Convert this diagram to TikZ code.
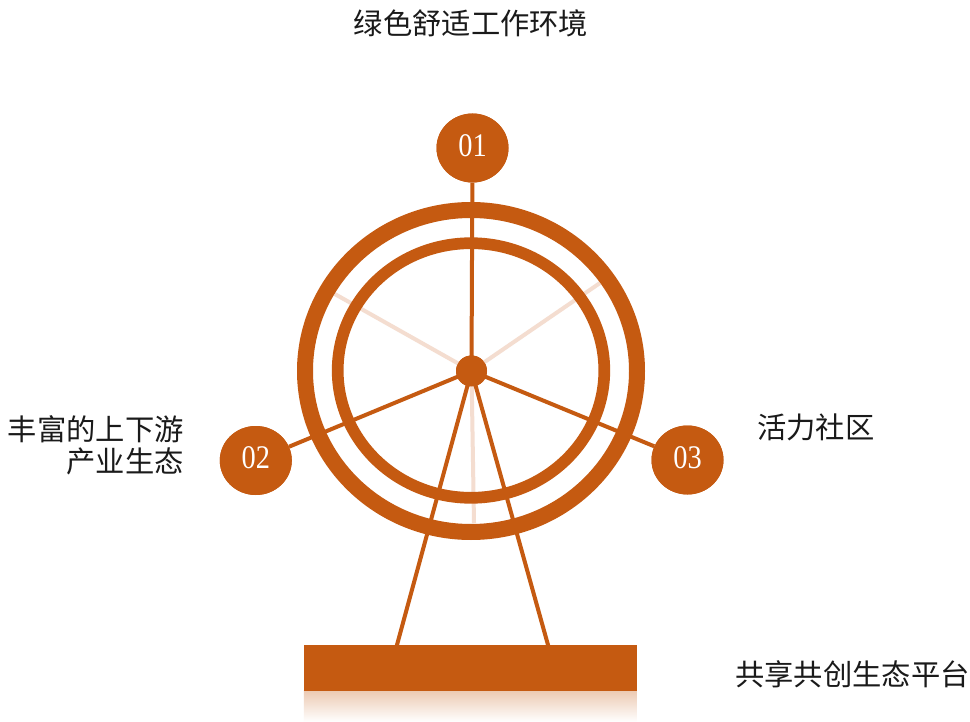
\documentclass[tikz,border=0pt]{standalone}
\usepackage{fontspec}
\setmainfont{Liberation Serif}
\newfontfamily\cjk{Noto Sans CJK SC}
\usetikzlibrary{shapes.geometric}
\definecolor{rust}{HTML}{C55A11}
\definecolor{rustpale}{HTML}{F4DDD0}
\definecolor{ink}{HTML}{1A1A1A}
\newcommand{\badgenum}[1]{\raisebox{5pt}{\scalebox{0.86}[1]{#1}}}
\begin{document}
\begin{tikzpicture}[x=1pt,y=-1pt,
  badge/.style={ellipse,fill=rust,minimum width=72pt,minimum height=69pt,inner sep=0pt,
    text=white,font=\fontsize{33}{33}\selectfont},
  hubdisc/.style={circle,fill=rust,minimum size=31pt,inner sep=0pt},
  caption/.style={font=\cjk\fontsize{29.3}{32}\selectfont,text=ink,inner sep=0pt},
  spoke/.style={draw=rust,line width=4pt},
  ghost/.style={draw=rustpale,line width=4pt},
  ring/.style={draw=rust},
]
\useasboundingbox (0,0) rectangle (970,722);
\fill[white] (0,0) rectangle (970,722);

% hub and badge positions
\node[hubdisc] (hub) at (471.5,371) {};
\node[badge] (n1) at (472.5,148) {};
\node[badge] (n2) at (255.8,460.5) {};
\node[badge] (n3) at (687.5,460) {};

% base platform with its fading reflection
\node[fill=rust,minimum width=332.7pt,minimum height=45.7pt,inner sep=0pt] (base) at (470.3,667.9) {};
\shade[top color=rust!32,bottom color=white] (base.south west) rectangle ++(332.7,31);

% free ends of the pale spokes and the legs
\coordinate (g1) at (333,293);
\coordinate (g2) at (600,283);
\coordinate (g3) at (474,523);
\coordinate (legL) at (396.7,646);
\coordinate (legR) at (548.3,646);

% pale spokes behind the rings
\draw[ghost] (hub.center) -- (g1);
\draw[ghost] (hub.center) -- (g2);
\draw[ghost] (hub.center) -- (g3);

% rings
\draw[ring,line width=16pt] (471,371) ellipse [x radius=166, y radius=161];
\draw[ring,line width=11.7pt] (471,370.5) ellipse [x radius=133.3, y radius=127.3];

% dark spokes and legs
\draw[spoke] (hub.center) -- (n1);
\draw[spoke] (hub.center) -- (n2);
\draw[spoke] (hub.center) -- (n3);
\draw[spoke] (hub.center) -- (legL);
\draw[spoke] (hub.center) -- (legR);

% hub, badges and base on top
\node[hubdisc] at (hub) {};
\node[badge] at (n1) {\badgenum{01}};
\node[badge] at (n2) {\badgenum{02}};
\node[badge] at (n3) {\badgenum{03}};
\fill[rust] (base.south west) rectangle (base.north east);

% captions
\node[caption] (t1) at (471,23) {绿色舒适工作环境};
\node[caption,anchor=east,align=right] (t2) at (184,445) {丰富的上下游\\产业生态};
\node[caption,anchor=west] (t3) at (757,427) {活力社区};
\node[caption,anchor=west] (t4) at (735,674) {共享共创生态平台};
\end{tikzpicture}
\end{document}
